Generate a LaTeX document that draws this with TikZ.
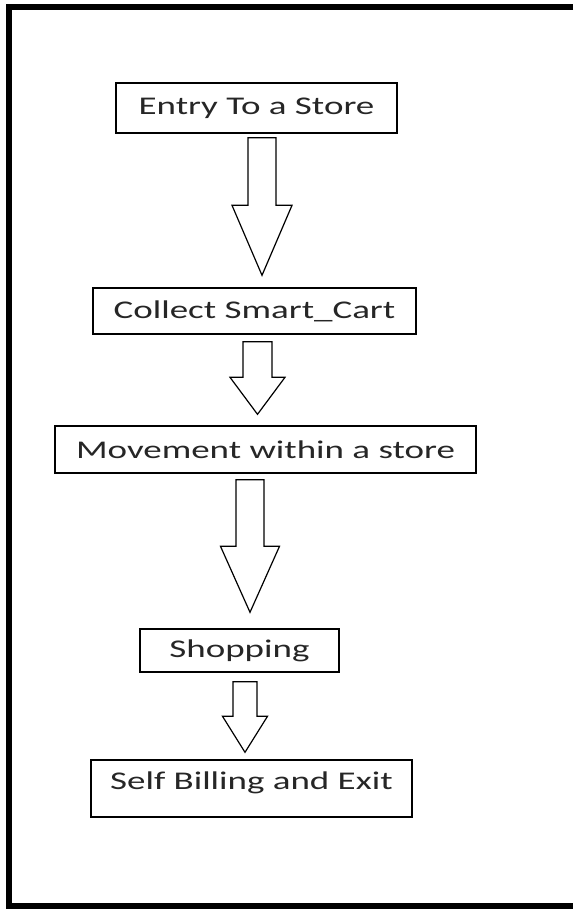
\documentclass[tikz,border=0pt]{standalone}
\usepackage{fontspec}
\setmainfont{Carlito}[FakeStretch=1.45]
\usetikzlibrary{calc}

\begin{document}
\begin{tikzpicture}[
    x=1pt, y=-1pt,
    % Box styles
    stepbox/.style 2 args={draw=black, line width=1.4pt, fill=white, inner sep=0pt,
        minimum width=#1, minimum height=#2, text=black!85,
        font=\fontsize{25.5}{30}\selectfont},
    % Block arrow: shaft half width, head half width, head length
    flowarrow/.style n args={3}{draw=black, line width=1.2pt, fill=white, to path={
        let \p1=(\tikztostart), \p2=(\tikztotarget) in
        (\x1-#1pt,\y1) -- (\x1-#1pt,\y2+#3pt) -- (\x1-#2pt,\y2+#3pt) -- (\x1,\y2)
        -- (\x1+#2pt,\y2+#3pt) -- (\x1+#1pt,\y2+#3pt) -- (\x1+#1pt,\y1) -- cycle}},
]

\useasboundingbox (0,0) rectangle (573,909);
\fill[white] (0,0) rectangle (573,909);

% === OUTER FRAME (open on the right) ===
\draw[line width=6pt] (573,7.5) -- (8.5,7.5) -- (8.5,906) -- (573,906);

% === STEPS ===
\node[stepbox={281pt}{50pt}] (entry) at (256.5,108) {Entry To a Store};
\node[stepbox={323pt}{46pt}] (cart)  at (254.5,311) {Collect Smart\_Cart};
\node[stepbox={421pt}{47pt}] (move)  at (265.5,449.5) {Movement within a store};
\node[stepbox={199pt}{43pt}] (shop)  at (239.5,650.5) {Shopping};
\node[stepbox={321pt}{57pt}, text depth=16pt] (bill) at (251.5,788.5) {Self Billing and Exit};

% === FLOW ARROWS ===
\draw[flowarrow={14}{30}{70}]     ($(entry.south)+(5.5,4)$) to ($(cart.north)+(0,-12)$);
\draw[flowarrow={14.5}{27.5}{37}] ($(cart.south)+(3,7)$)    to ($(move.north)+(0,-11)$);
\draw[flowarrow={14}{29.5}{66}]   ($(move.south)+(-15.5,6)$) to ($(shop.north)+(0,-16)$);
\draw[flowarrow={12}{22.5}{36}]   ($(shop.south)+(5.5,9)$)  to ($(bill.north)+(0,-7)$);

\end{tikzpicture}
\end{document}
